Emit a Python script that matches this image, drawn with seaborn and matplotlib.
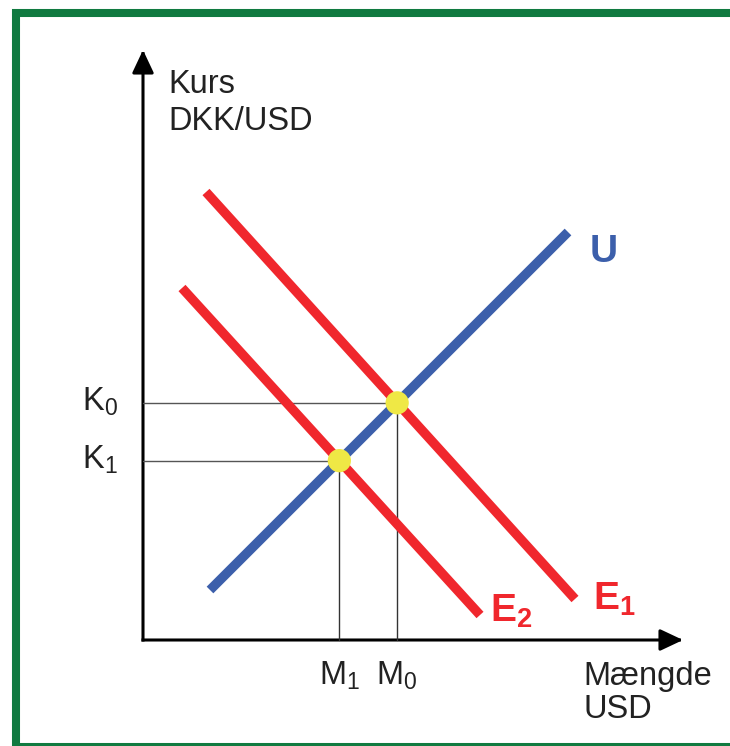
import numpy as np
import pandas as pd
import matplotlib
matplotlib.use('Agg')
import matplotlib.pyplot as plt
from matplotlib.patches import Rectangle, FancyArrowPatch
import seaborn as sns

# 数据：三条直线的端点（坐标原点 = 坐标轴交点）
u_x = [0.67, 4.25]
u_y = [0.50, 4.08]
e1_x = [0.63, 4.32]
e1_y = [4.48, 0.41]
e2_x = [0.39, 3.37]
e2_y = [3.52, 0.25]

curve_names = ['U', 'E1', 'E2']
curve_colors = {'U': '#3c5fab', 'E1': '#f0272d', 'E2': '#f0272d'}

k_labels = ['K$_0$', 'K$_1$']
m_labels = ['M$_0$', 'M$_1$']
y_title = ['Kurs', 'DKK/USD']
x_title = ['Mængde', 'USD']


def line_coef(xs, ys):
    a = (ys[1] - ys[0]) / (xs[1] - xs[0])
    return a, ys[0] - a * xs[0]


def intersect(l1, l2):
    a1, b1 = line_coef(*l1)
    a2, b2 = line_coef(*l2)
    x = (b2 - b1) / (a1 - a2)
    return x, a1 * x + b1


sns.set_style('white')
plt.rcParams['font.family'] = ['Liberation Sans', 'DejaVu Sans']
plt.rcParams['mathtext.default'] = 'regular'

fig = plt.figure(figsize=(7.3, 7.46), dpi=100)
ax = fig.add_axes([0, 0, 1, 1])
ax.set_xlim(-1.43, 5.87)
ax.set_ylim(-1.06, 6.40)
ax.axis('off')

# 绿色边框
fig.patches.append(Rectangle((15.5 / 730, -1.0 / 746), 1.2, 1 - 12.5 / 746 + 1.0 / 746,
                             transform=fig.transFigure, fill=False,
                             edgecolor='#107a40', linewidth=5.8))

# 坐标轴箭头
for end in [(0, 5.90), (5.40, 0)]:
    ax.add_patch(FancyArrowPatch((0, 0), end, arrowstyle='-|>,head_length=0.7,head_width=0.33',
                                 mutation_scale=20, color='black', linewidth=2.2,
                                 shrinkA=0, shrinkB=0, capstyle='projecting'))

# 交点
p0 = intersect((u_x, u_y), (e1_x, e1_y))
p1 = intersect((u_x, u_y), (e2_x, e2_y))
pts = pd.DataFrame({'x': [p0[0], p1[0]], 'y': [p0[1], p1[1]]})

# 辅助线
for (px, py) in [p0, p1]:
    ax.plot([0, px], [py, py], color='#555555', linewidth=1.0, zorder=1)
    ax.plot([px, px], [0, py], color='#333333', linewidth=1.0, zorder=1)

df = pd.DataFrame({
    'x': u_x + e1_x + e2_x,
    'y': u_y + e1_y + e2_y,
    'curve': ['U'] * 2 + ['E1'] * 2 + ['E2'] * 2,
})
sns.lineplot(data=df, x='x', y='y', hue='curve', hue_order=curve_names, palette=curve_colors,
             estimator=None, sort=False, linewidth=6.8, legend=False, ax=ax,
             solid_capstyle='butt', zorder=2)

sns.scatterplot(data=pts, x='x', y='y', color='#efe845', s=280, edgecolor='none',
                legend=False, ax=ax, zorder=3)

# 文字
fs = 23.5
tc = '#222222'
ax.text(0.25, 5.47, y_title[0], fontsize=fs, color=tc, ha='left', va='baseline')
ax.text(0.25, 5.10, y_title[1], fontsize=fs, color=tc, ha='left', va='baseline')
ax.text(4.40, -0.45, x_title[0], fontsize=fs, color=tc, ha='left', va='baseline')
ax.text(4.40, -0.78, x_title[1], fontsize=fs, color=tc, ha='left', va='baseline')

for lab, (px, py) in zip(k_labels, [p0, p1]):
    ax.text(-0.25, py - 0.08, lab, fontsize=fs, color=tc, ha='right', va='baseline')
for lab, (px, py) in zip(m_labels, [p0, p1]):
    ax.text(px, -0.45, lab, fontsize=fs, color=tc, ha='center', va='baseline')

ax.text(4.47, 3.78, 'U', fontsize=28, fontweight='bold', color=curve_colors['U'],
        ha='left', va='baseline')
ax.text(4.50, 0.30, r'E$_1$', fontsize=28, fontweight='bold', color=curve_colors['E1'],
        ha='left', va='baseline')
ax.text(3.47, 0.18, r'E$_2$', fontsize=28, fontweight='bold', color=curve_colors['E2'],
        ha='left', va='baseline')

fig.savefig('out.png', dpi=100)
